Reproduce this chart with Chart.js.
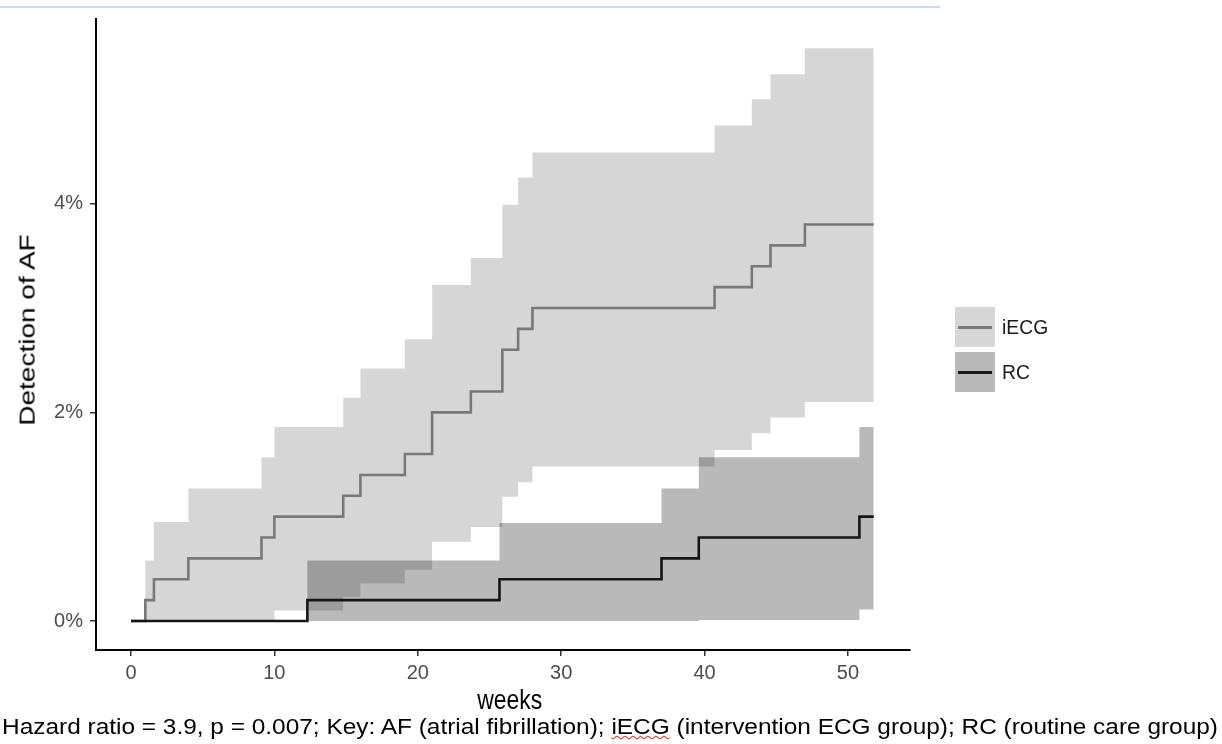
<!DOCTYPE html>
<html>
<head>
<meta charset="utf-8">
<script src="https://cdn.jsdelivr.net/npm/chart.js@4/dist/chart.umd.min.js"></script>
<style>
  body { margin: 0; background: #fff; font-family: "Liberation Sans", Arial, sans-serif; }
  #wrap { position: relative; width: 1222px; height: 744px; overflow: hidden; }
  #topline { position: absolute; left: 0; top: 6px; width: 940px; height: 2px; background: #c6dcee; }
  .key { position: absolute; left: 955px; width: 40px; height: 40px; }
  .key i { position: absolute; left: 3px; right: 3px; top: 19px; height: 2.5px; }
  .lab { position: absolute; left: 1002px; font-size: 21px; color: #1a1a1a; line-height: 24px; transform: scaleX(0.92); transform-origin: 0 0; }
  .ttl { position: absolute; left: 0; top: 0; font-size: 28px; color: #000; white-space: nowrap; line-height: 32px; }
  #caption { position: absolute; left: 2px; top: 714px; font-size: 22px; color: #000; white-space: nowrap; transform-origin: 0 0; line-height: 26px; }
  #caption u { text-decoration: underline wavy #e03030; text-decoration-thickness: 1px; }
</style>
</head>
<body>
<div id="wrap">
  <canvas id="kmChart" width="1222" height="744"></canvas>
  <div id="topline"></div>
  <div class="key" style="top:307px;background:#d7d7d7"><i style="background:#7a7a7a"></i></div>
  <div class="lab" style="top:315px">iECG</div>
  <div class="key" style="top:352px;background:#b9b9b9"><i style="background:#1a1a1a"></i></div>
  <div class="lab" style="top:360px">RC</div>
  <div class="ttl" id="xTitle">weeks</div>
  <div class="ttl" id="yTitle">Detection of AF</div>
  <div id="caption"><span id="capText">Hazard ratio = 3.9, p = 0.007; Key: AF (atrial fibrillation); <u>iECG</u> (intervention ECG group); RC (routine care group)</span></div>
</div>
<script>
// iECG group: event weeks, cumulative detection (%) and confidence band
const iecgWeeks = [0, 1, 1.6, 4, 9.1, 10, 14.8, 16, 19.1, 21, 23.7, 25.9, 27, 28, 40.7, 43.3, 44.6, 47, 51.8];
const iecgPct   = [0, 0.2, 0.4, 0.6, 0.8, 1.0, 1.2, 1.4, 1.6, 2.0, 2.2, 2.6, 2.8, 3.0, 3.2, 3.4, 3.6, 3.8, 3.8];
const iecgUpper = [0, 0.58, 0.95, 1.27, 1.57, 1.86, 2.14, 2.42, 2.70, 3.22, 3.48, 3.99, 4.25, 4.49, 4.75, 5.0, 5.24, 5.49, 5.49];
const iecgLower = [0, 0, 0, 0, 0, 0.1, 0.23, 0.36, 0.49, 0.76, 0.9, 1.19, 1.33, 1.48, 1.64, 1.8, 1.95, 2.1, 2.1];

// RC group
const rcWeeks = [0, 12.3, 25.7, 37, 39.6, 50.8, 51.8];
const rcPct   = [0, 0.2, 0.4, 0.6, 0.8, 1.0, 1.0];
const rcUpper = [0, 0.58, 0.94, 1.27, 1.57, 1.86, 1.86];
const rcLower = [0, 0, 0, 0, 0.01, 0.11, 0.11];

const xTicks = [0, 10, 20, 30, 40, 50];
const yTicks = [0, 2, 4];

const pts = (xs, ys) => xs.map((x, i) => ({ x: x, y: ys[i] }));

const band = (data, order, fill, color) => ({
  data: data, order: order, stepped: true, pointRadius: 0,
  borderWidth: 0, borderColor: 'rgba(0,0,0,0)', fill: fill, backgroundColor: color
});

const tickFont = { family: 'Liberation Sans', size: 20 };

const ctx = document.getElementById('kmChart');
new Chart(ctx, {
  type: 'line',
  data: {
    datasets: [
      band(pts(iecgWeeks, iecgUpper), 5, false, 'rgba(0,0,0,0)'),
      band(pts(iecgWeeks, iecgLower), 4, '-1', 'rgba(0,0,0,0.16)'),
      band(pts(rcWeeks, rcUpper), 3, false, 'rgba(0,0,0,0)'),
      band(pts(rcWeeks, rcLower), 2, '-1', 'rgba(0,0,0,0.275)'),
      { label: 'iECG', data: pts(iecgWeeks, iecgPct), order: 1, stepped: true, pointRadius: 0,
        borderColor: '#787878', borderWidth: 2.6, fill: false },
      { label: 'RC', data: pts(rcWeeks, rcPct), order: 0, stepped: true, pointRadius: 0,
        borderColor: '#161616', borderWidth: 2.6, fill: false }
    ]
  },
  options: {
    responsive: false,
    devicePixelRatio: 1,
    animation: false,
    layout: { padding: { left: 0, top: 18, right: 312, bottom: 0 } },
    plugins: { legend: { display: false }, tooltip: { enabled: false } },
    scales: {
      x: {
        type: 'linear', min: -2.44, max: 54.33,
        afterBuildTicks: a => { a.ticks = xTicks.map(v => ({ value: v })); },
        afterFit: s => { s.height = 94; },
        grid: { drawOnChartArea: false, color: '#333', lineWidth: 1.5, tickLength: 6 },
        border: { color: '#000', width: 2 },
        ticks: { color: '#4d4d4d', font: tickFont, padding: 5, callback: v => v }
      },
      y: {
        type: 'linear', min: -0.278, max: 5.77,
        afterBuildTicks: a => { a.ticks = yTicks.map(v => ({ value: v })); },
        afterFit: s => { s.width = 96; },
        grid: { drawOnChartArea: false, color: '#333', lineWidth: 1.5, tickLength: 6 },
        border: { color: '#000', width: 2 },
        ticks: { color: '#4d4d4d', font: tickFont, padding: 7, callback: v => v + '%' }
      }
    }
  }
});

// axis titles: the figure's text is a little narrower than the font
const place = (el, cx, cy, rot, sx) => {
  const r = el.getBoundingClientRect();
  el.style.left = (cx - r.width / 2) + 'px';
  el.style.top = (cy - r.height / 2) + 'px';
  el.style.transform = rot ? 'rotate(-90deg) scaleY(' + sx + ')' : 'scaleX(' + sx + ')';
};
place(document.getElementById('xTitle'), 510, 700, false, 0.82);
place(document.getElementById('yTitle'), 27, 330, true, 0.82);

// stretch caption to the width it has in the figure
const cap = document.getElementById('capText');
const w = cap.getBoundingClientRect().width;
document.getElementById('caption').style.transform = 'scaleX(' + (1216 / w) + ')';
</script>
</body>
</html>
